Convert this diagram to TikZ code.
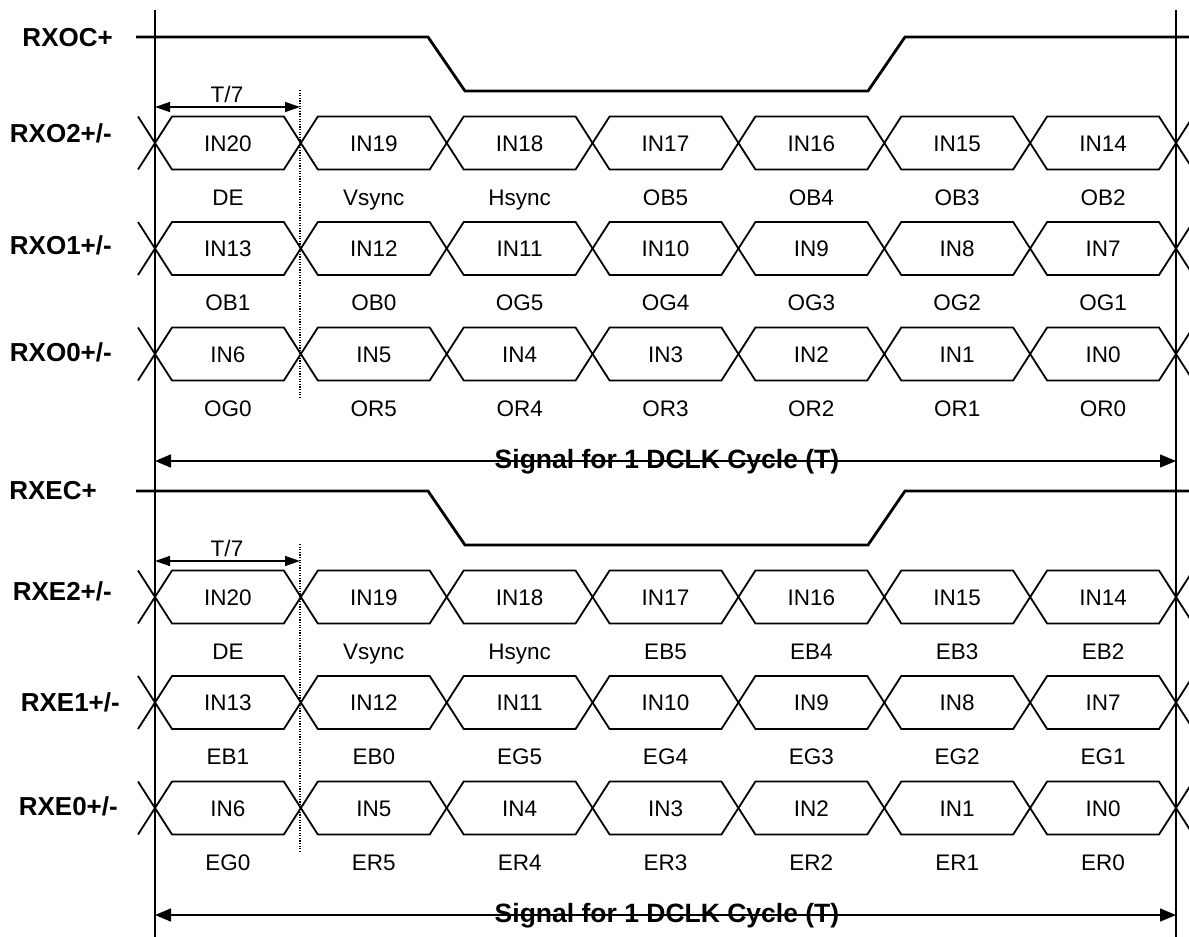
\documentclass[tikz,border=0pt]{standalone}
\usepackage{fontspec}
\setmainfont{Liberation Sans}
\usetikzlibrary{arrows.meta}
\newcommand\busrow[4]{% #1 y centre, #2 labels in cells, #3 labels below, #4 name prefix
  \foreach \k in {0,...,6}{
    \pgfmathsetmacro\xa{155+145.857*\k}
    \pgfmathsetmacro\xb{155+145.857*(\k+1)}
    \draw[bus] (\xa,#1) -- (\xa+17,#1-26.5) -- (\xb-17,#1-26.5) -- (\xb,#1)
      -- (\xb-17,#1+26.5) -- (\xa+17,#1+26.5) -- cycle;
  }
  \draw[bus] (138,#1-26.5) -- (155,#1) -- (138,#1+26.5);
  \draw[bus] (1193,#1-26.5) -- (1176,#1) -- (1193,#1+26.5);
  \foreach \t [count=\i from 0] in {#2}
    \node[cell] (#4in\i) at (155+145.857*\i+72.93,#1) {\t};
  \foreach \t [count=\i from 0] in {#3}
    \node[cell] (#4bit\i) at (155+145.857*\i+72.93,#1+54) {\t};
}
\begin{document}
\begin{tikzpicture}[x=1pt,y=-1pt,
  bus/.style={line width=1.8pt, line join=miter},
  clk/.style={line width=2.8pt},
  vline/.style={line width=1.6pt},
  dotline/.style={line width=1.2pt, dash pattern=on 1.2pt off 1.4pt},
  dim/.style={line width=1.4pt, {Triangle[length=15pt,width=10pt]}-{Triangle[length=15pt,width=10pt]}},
  span/.style={line width=1.4pt, {Triangle[length=16pt,width=13pt]}-{Triangle[length=16pt,width=13pt]}},
  sig/.style={font=\fontsize{26}{30}\selectfont\bfseries, anchor=east, text height=18.6pt, text depth=0pt, inner sep=0pt},
  cell/.style={font=\fontsize{22.5}{27}\selectfont, text height=16pt, text depth=0pt, inner sep=0pt},
  title/.style={font=\fontsize{26.5}{31}\selectfont\bfseries, anchor=base, inner sep=0pt}]
\useasboundingbox (0,0) rectangle (1189,937);

% vertical reference lines
\coordinate (L1) at (155,10);
\coordinate (L2) at (155,937);
\coordinate (R1) at (1176,10);
\coordinate (R2) at (1176,937);
\draw[vline] (L1) -- (L2);
\draw[vline] (R1) -- (R2);

% ---------------- odd half ----------------
\draw[clk] (136,37) -- (428,37) -- (465,91) -- (868,91) -- (905,37) -- (1189,37);
\node[sig] (lOC) at (113,37) {RXOC+};
\node[sig] (lO2) at (112,133) {RXO2+/-};
\node[sig] (lO1) at (112,245) {RXO1+/-};
\node[sig] (lO0) at (112,352) {RXO0+/-};

\coordinate (dO1) at (300,90);
\coordinate (dO2) at (300,399);
\draw[dotline] (dO1) -- (dO2);
\coordinate (tOa) at (155,107);
\coordinate (tOb) at (300,107);
\draw[dim] (tOa) -- (tOb);
\node[cell] (tO) at (227,94) {T/7};

\busrow{143}{IN20,IN19,IN18,IN17,IN16,IN15,IN14}{DE,Vsync,Hsync,OB5,OB4,OB3,OB2}{oa}
\busrow{248.5}{IN13,IN12,IN11,IN10,IN9,IN8,IN7}{OB1,OB0,OG5,OG4,OG3,OG2,OG1}{ob}
\busrow{354}{IN6,IN5,IN4,IN3,IN2,IN1,IN0}{OG0,OR5,OR4,OR3,OR2,OR1,OR0}{oc}

\coordinate (sOa) at (155,461);
\coordinate (sOb) at (1176,461);
\draw[span] (sOa) -- (sOb);
\node[title] (sO) at (667,468) {Signal for 1 DCLK Cycle (T)};

% ---------------- even half ----------------
\draw[clk] (136,491) -- (428,491) -- (465,545) -- (868,545) -- (905,491) -- (1189,491);
\node[sig] (lEC) at (97,490) {RXEC+};
\node[sig] (lE2) at (112,591) {RXE2+/-};
\node[sig] (lE1) at (120,702) {RXE1+/-};
\node[sig] (lE0) at (118,806) {RXE0+/-};

\coordinate (dE1) at (300,544);
\coordinate (dE2) at (300,853);
\draw[dotline] (dE1) -- (dE2);
\coordinate (tEa) at (155,561);
\coordinate (tEb) at (300,561);
\draw[dim] (tEa) -- (tEb);
\node[cell] (tE) at (227,548) {T/7};

\busrow{597}{IN20,IN19,IN18,IN17,IN16,IN15,IN14}{DE,Vsync,Hsync,EB5,EB4,EB3,EB2}{ea}
\busrow{702.5}{IN13,IN12,IN11,IN10,IN9,IN8,IN7}{EB1,EB0,EG5,EG4,EG3,EG2,EG1}{eb}
\busrow{808}{IN6,IN5,IN4,IN3,IN2,IN1,IN0}{EG0,ER5,ER4,ER3,ER2,ER1,ER0}{ec}

\coordinate (sEa) at (155,915);
\coordinate (sEb) at (1176,915);
\draw[span] (sEa) -- (sEb);
\node[title] (sE) at (667,922) {Signal for 1 DCLK Cycle (T)};
\end{tikzpicture}
\end{document}
